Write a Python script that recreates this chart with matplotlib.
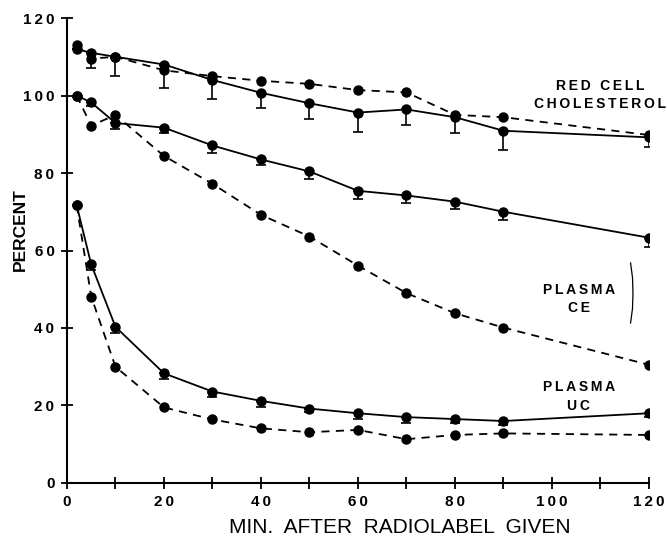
import numpy as np
import matplotlib
matplotlib.use('Agg')
import matplotlib.pyplot as plt
from matplotlib.ticker import MultipleLocator, FuncFormatter

# --- data ---
minutes = [2, 5, 10, 20, 30, 40, 50, 60, 70, 80, 90, 120]

rbc_solid = [112, 111, 110, 108, 104, 100.7, 98, 95.6, 96.4, 94.4, 90.9, 89.2]
rbc_solid_err = [0, 4, 5, 6, 5, 4, 4, 5, 4, 4, 5, 2.5]
rbc_dashed = [113, 109.5, 110, 106.5, 105, 103.8, 103, 101.4, 100.8, 95, 94.4, 89.8]

ce_solid = [100, 98.2, 92.9, 91.7, 87.1, 83.5, 80.4, 75.4, 74.2, 72.6, 70.0, 63.3]
ce_solid_err = [0, 1, 1.5, 1.5, 2, 1.5, 2, 2, 2, 2, 2, 2.5]
ce_dashed = [100, 92.2, 95, 84.4, 77.2, 69.2, 63.6, 56.1, 49.0, 43.8, 40.1, 30.5]

uc_solid = [71.7, 56.4, 40.3, 28.3, 23.6, 21.2, 19.2, 18.0, 17.0, 16.5, 16.0, 18.0]
uc_solid_err = [0, 1.5, 1.5, 1.5, 1.5, 1.5, 1, 1.5, 1.5, 1, 1, 1]
uc_dashed = [71.7, 48.1, 30.0, 19.5, 16.4, 14.1, 13.1, 13.7, 11.3, 12.4, 12.8, 12.4]

plt.rcParams['font.family'] = ['Liberation Sans', 'DejaVu Sans']

SP = '\u2009'  # thin space, for the letter-spaced typewriter look


def spaced(s):
    return '\n'.join(SP.join(line) for line in s.split('\n'))


fig = plt.figure(figsize=(6.67, 5.39), dpi=100)
ax = fig.add_axes([0.1004, 0.1039, 0.8726, 0.8627])

ms = 6.5
lw = 1.3
for vals, err in [(rbc_solid, rbc_solid_err), (ce_solid, ce_solid_err), (uc_solid, uc_solid_err)]:
    ax.errorbar(minutes, vals, yerr=[err, np.zeros(len(err))], color='black', fmt='-o',
                ms=ms, lw=lw, elinewidth=1.2, capsize=3.5, capthick=1.2)
for vals in [rbc_dashed, ce_dashed, uc_dashed]:
    ax.plot(minutes, vals, color='black', ls=(0, (4.5, 3.5)), lw=lw, marker='o', ms=ms)

ax.set_xlim(0, 120)
ax.set_ylim(0, 120)
ax.spines['top'].set_visible(False)
ax.spines['right'].set_visible(False)
ax.spines['left'].set_linewidth(1.5)
ax.spines['bottom'].set_linewidth(1.5)
ax.xaxis.set_major_locator(MultipleLocator(20))
ax.xaxis.set_minor_locator(MultipleLocator(10))
ax.yaxis.set_major_locator(MultipleLocator(20))
fmt = FuncFormatter(lambda v, p: spaced('%d' % v))
ax.xaxis.set_major_formatter(fmt)
ax.yaxis.set_major_formatter(fmt)
ax.tick_params(which='both', direction='inout', length=8, width=1.3)
ax.tick_params(axis='both', labelsize=11, pad=5)
for lab in ax.get_xticklabels() + ax.get_yticklabels():
    lab.set_fontweight('heavy')

ax.set_xlabel('MIN.  AFTER  RADIOLABEL  GIVEN', fontsize=15)
ax.xaxis.set_label_coords(0.572, -0.076)
ax.set_ylabel('PERCENT', fontsize=12.5, fontweight='bold')
ax.yaxis.set_label_coords(-0.067, 0.546)

ax.text(109.9, 100.1, spaced('RED CELL\nCHOLESTEROL'), ha='center', va='center',
        fontsize=10, fontweight='heavy', linespacing=1.4, clip_on=False)
ax.text(105.5, 47.5, spaced('PLASMA\nCE'), ha='center', va='center',
        fontsize=10, fontweight='heavy', linespacing=1.4)
ax.text(105.5, 22.3, spaced('PLASMA\nUC'), ha='center', va='center',
        fontsize=10, fontweight='heavy', linespacing=1.4)
ax.plot([116.2, 116.6, 116.7, 116.6, 116.2], [56.8, 53, 49, 45, 41.3], color='black', lw=0.9)

fig.savefig('out.png', dpi=100)
